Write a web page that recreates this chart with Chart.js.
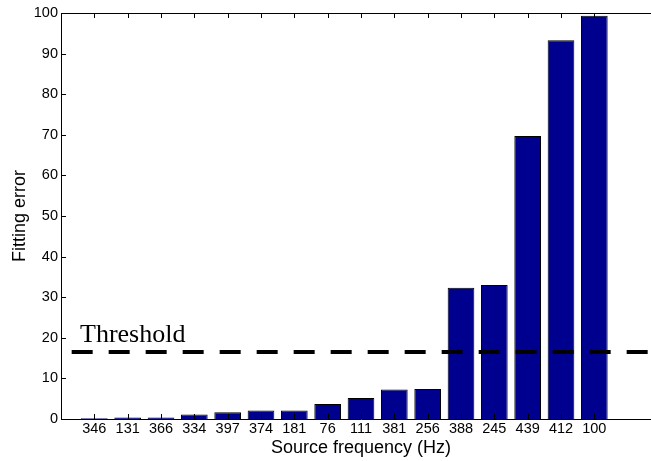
<!DOCTYPE html>
<html>
<head>
<meta charset="utf-8">
<script src="https://cdn.jsdelivr.net/npm/chart.js@4"></script>
<style>
  html, body { margin: 0; padding: 0; background: #fff; overflow: hidden; }
  #wrap { width: 680px; height: 461px; }
</style>
</head>
<body>
<div id="wrap"><canvas id="c" width="680" height="461"></canvas></div>
<script>
// ---- data ----
const categories = ['346','131','366','334','397','374','181','76','111','381','256','388','245','439','412','100'];
const fittingError = [0.2, 0.4, 0.35, 1.1, 1.65, 2.1, 2.1, 3.7, 5.2, 7.25, 7.4, 32.3, 33.0, 69.7, 93.3, 99.3];
const yTicks = [0, 10, 20, 30, 40, 50, 60, 70, 80, 90, 100];
const thresholdValue = 16.5;
const thresholdSpan = [0.32, 18];
const thresholdLabel = 'Threshold';
const thresholdLabelPos = [0.57, 19.0];
const xRange = [0, 18];

const FONT = '"Liberation Sans", Arial, Helvetica, sans-serif';

const barData = categories.map((c, i) => ({ x: i + 1, y: fittingError[i] }));
const lineData = thresholdSpan.map(xv => ({ x: xv, y: thresholdValue }));

const matlabBox = {
  id: 'matlabBox',
  afterDraw(chart) {
    const { ctx, chartArea: { left, right, top, bottom }, scales: { x, y } } = chart;
    ctx.save();
    ctx.strokeStyle = '#000';
    ctx.lineWidth = 1;
    ctx.beginPath();
    ctx.moveTo(left, Math.round(top) + 0.5);
    ctx.lineTo(right, Math.round(top) + 0.5);
    categories.forEach((c, i) => {
      const px = Math.round(x.getPixelForValue(i + 1)) + 0.5;
      ctx.moveTo(px, bottom);
      ctx.lineTo(px, bottom - 5);
      ctx.moveTo(px, top);
      ctx.lineTo(px, top + 5);
    });
    yTicks.forEach(v => {
      const py = Math.round(y.getPixelForValue(v)) + 0.5;
      ctx.moveTo(left, py);
      ctx.lineTo(left + 5, py);
    });
    ctx.stroke();
    ctx.fillStyle = '#000';
    ctx.font = '26px "Liberation Serif", "Times New Roman", serif';
    ctx.textAlign = 'left';
    ctx.textBaseline = 'alphabetic';
    ctx.fillText(thresholdLabel, x.getPixelForValue(thresholdLabelPos[0]), y.getPixelForValue(thresholdLabelPos[1]));
    ctx.restore();
  }
};

new Chart(document.getElementById('c'), {
  data: {
    datasets: [
      {
        type: 'line',
        data: lineData,
        borderColor: '#000',
        borderWidth: 4,
        borderDash: [21, 16],
        pointRadius: 0,
        fill: false,
        order: 0
      },
      {
        type: 'bar',
        data: barData,
        backgroundColor: 'rgb(0,0,143)',
        borderColor: '#000',
        borderWidth: 1,
        barPercentage: 0.8,
        categoryPercentage: 1,
        order: 1
      }
    ]
  },
  plugins: [matlabBox],
  options: {
    responsive: false,
    animation: false,
    layout: { padding: { left: 0, top: 13, right: 19, bottom: 0 } },
    plugins: { legend: { display: false }, tooltip: { enabled: false } },
    scales: {
      x: {
        type: 'linear',
        min: xRange[0],
        max: xRange[1],
        offset: false,
        grid: { display: false, drawTicks: false },
        border: { display: true, color: '#000', width: 1 },
        ticks: {
          stepSize: 1,
          autoSkip: false,
          maxRotation: 0,
          padding: 1,
          color: '#000',
          font: { family: FONT, size: 14.5 },
          callback: v => (v >= 1 && v <= categories.length && Number.isInteger(v)) ? categories[v - 1] : ''
        },
        title: {
          display: true,
          text: 'Source frequency (Hz)',
          color: '#000',
          font: { family: FONT, size: 18 },
          padding: { top: 0, bottom: 2 }
        },
        afterFit: s => { s.height = 42; }
      },
      y: {
        type: 'linear',
        min: 0,
        max: 100,
        grid: { display: false, drawTicks: false },
        border: { display: true, color: '#000', width: 1 },
        ticks: {
          stepSize: 10,
          padding: 3,
          color: '#000',
          font: { family: FONT, size: 14.5 }
        },
        title: {
          display: true,
          text: 'Fitting error',
          color: '#000',
          font: { family: FONT, size: 18 },
          padding: { top: 9, bottom: 0 }
        },
        afterFit: s => { s.width = 61; }
      }
    }
  }
});
</script>
</body>
</html>
